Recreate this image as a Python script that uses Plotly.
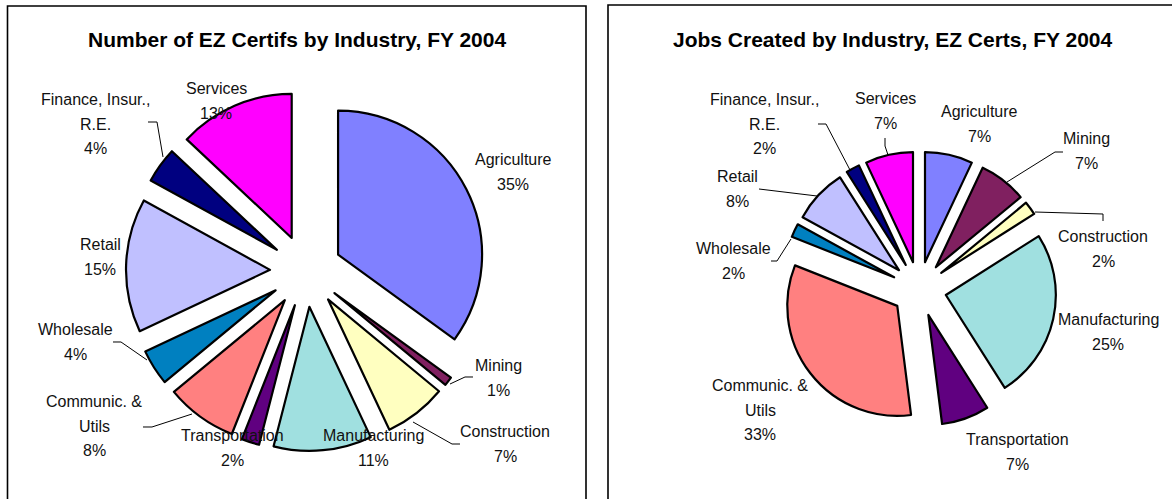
import plotly.graph_objects as go

W, H = 1172, 499

industries = ["Agriculture", "Mining", "Construction", "Manufacturing", "Transportation",
              "Communic. & Utils", "Wholesale", "Retail", "Finance, Insur., R.E.", "Services"]
certifs_pct = [35, 1, 7, 11, 2, 8, 4, 15, 4, 13]
jobs_pct = [7, 7, 2, 25, 7, 33, 2, 8, 2, 7]
colors = ["#8080FF", "#802060", "#FFFFC0", "#A0E0E0", "#600080",
          "#FF8080", "#0080C0", "#C0C0FF", "#000080", "#FF00FF"]

title_left = "Number of EZ Certifs by Industry, FY 2004"
title_right = "Jobs Created by Industry, EZ Certs, FY 2004"

display_lines = {
    "Communic. & Utils": ["Communic. &", "Utils"],
    "Finance, Insur., R.E.": ["Finance, Insur.,", "R.E."],
}

# label block centres (pixels), layout only
label_pos_left = {
    "Services": (216, 101), "Finance, Insur., R.E.": (95, 124), "Agriculture": (513, 172),
    "Retail": (100, 257), "Wholesale": (76, 342), "Communic. & Utils": (94, 426),
    "Transportation": (233, 448), "Manufacturing": (373, 448), "Mining": (498, 378),
    "Construction": (505, 444),
}
label_pos_right = {
    "Finance, Insur., R.E.": (764, 124), "Services": (885, 111), "Agriculture": (979, 124),
    "Mining": (1086, 151), "Retail": (737, 189), "Construction": (1103, 249),
    "Wholesale": (733, 261), "Manufacturing": (1108, 332), "Communic. & Utils": (760, 410),
    "Transportation": (1017, 452),
}
leaders_left = [
    [(148, 122), (157, 122), (163, 157)],
    [(113, 342), (121, 342), (147, 360)],
    [(143, 427), (152, 427), (192, 414)],
    [(450, 384), (465, 377), (473, 377)],
    [(413, 422), (452, 444), (460, 444)],
]
leaders_right = [
    [(818, 124), (826, 124), (850, 170)],
    [(885, 138), (885, 146), (888, 155)],
    [(1007, 182), (1055, 152), (1063, 152)],
    [(1035, 212), (1103, 214), (1103, 221)],
    [(759, 189), (817, 196)],
    [(771, 261), (777, 261), (791, 239)],
]


def px(x, y):
    return x / W, 1 - y / H


def dom(cx, cy, half):
    x0, y0 = px(cx - half, cy + half)
    x1, y1 = px(cx + half, cy - half)
    return dict(x=[x0, x1], y=[y0, y1])


PULL = 0.25
fig = go.Figure()
fig.add_trace(go.Pie(
    labels=industries, values=certifs_pct, sort=False, direction="clockwise", rotation=0,
    pull=[PULL] * len(industries), textinfo="none", hoverinfo="label+percent",
    marker=dict(colors=colors, line=dict(color="black", width=2.2)),
    domain=dom(306, 271, 144 * (1 + PULL)), showlegend=False,
))
fig.add_trace(go.Pie(
    labels=industries, values=jobs_pct, sort=False, direction="clockwise", rotation=0,
    pull=[PULL] * len(industries), textinfo="none", hoverinfo="label+percent",
    marker=dict(colors=colors, line=dict(color="black", width=2.2)),
    domain=dom(919, 289, 110 * (1 + PULL)), showlegend=False,
))

LABEL_FONT = dict(family="Liberation Sans, Arial", size=16, color="#111111")
LINE_STEP = 24.5
annotations = []
for values, pos in ((certifs_pct, label_pos_left), (jobs_pct, label_pos_right)):
    for name, v in zip(industries, values):
        lines = display_lines.get(name, [name]) + [f"{v}%"]
        cx, cy = pos[name]
        top = cy - LINE_STEP * (len(lines) - 1) / 2
        for i, ln in enumerate(lines):
            x, y = px(cx, top + i * LINE_STEP)
            annotations.append(dict(
                x=x, y=y, xref="paper", yref="paper", showarrow=False,
                text=ln, xanchor="center", yanchor="middle", font=LABEL_FONT,
            ))
TITLE_FONT = dict(family="Liberation Sans, Arial", size=21, color="black")
for t, (tx, ty) in ((title_left, (297, 40)), (title_right, (893, 40))):
    x, y = px(tx, ty)
    annotations.append(dict(x=x, y=y, xref="paper", yref="paper", showarrow=False,
                            text=f"<b>{t}</b>", xanchor="center", yanchor="middle", font=TITLE_FONT))

shapes = []
for x0, y0, x1, y1 in ((7.5, 6, 586, 560), (608, 5, 1200, 560)):
    a = px(x0, y0)
    b = px(x1, y1)
    shapes.append(dict(type="rect", xref="paper", yref="paper", x0=a[0], y0=b[1], x1=b[0], y1=a[1],
                       line=dict(color="black", width=1.6), fillcolor="rgba(0,0,0,0)"))
for pts in leaders_left + leaders_right:
    path = ""
    for i, p in enumerate(pts):
        x, y = px(*p)
        path += ("M" if i == 0 else "L") + f"{x:.5f},{y:.5f} "
    shapes.append(dict(type="path", xref="paper", yref="paper", path=path.strip(),
                       line=dict(color="black", width=1)))

fig.update_layout(
    width=W, height=H, margin=dict(l=0, r=0, t=0, b=0),
    paper_bgcolor="white", plot_bgcolor="white",
    annotations=annotations, shapes=shapes,
)
fig.write_html("out.html", config={"displayModeBar": False},
               post_script="document.body.style.margin='0';document.body.style.overflow='hidden';")
